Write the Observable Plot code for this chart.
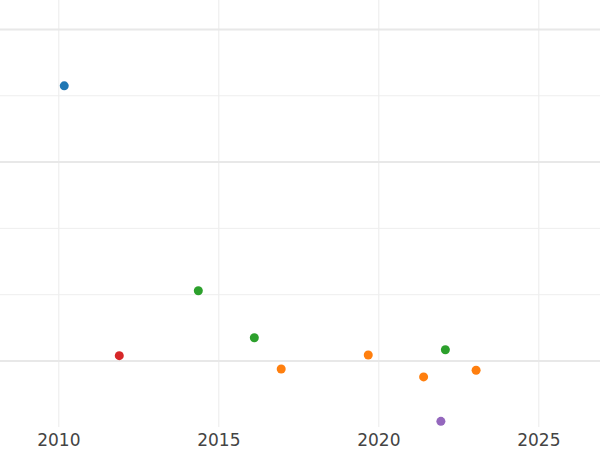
<!DOCTYPE html>
<html>
<head>
<meta charset="utf-8">
<script src="https://cdn.jsdelivr.net/npm/d3@7"></script>
<script src="https://cdn.jsdelivr.net/npm/@observablehq/plot@0.6"></script>
<style>
  html, body { margin: 0; padding: 0; background: #fff; }
  #chart svg { display: block; }
</style>
</head>
<body>
<div id="chart"></div>
<script>
// Data
const years  = [2010.17, 2011.89, 2014.36, 2016.11, 2016.95, 2019.67, 2021.40, 2022.08, 2023.04, 2021.94];
const values = [4.15, 0.08, 1.06, 0.35, -0.12, 0.09, -0.24, 0.17, -0.14, -0.91];
const groups = ["A", "D", "C", "C", "B", "B", "B", "C", "B", "E"];

const groupDomain = ["A", "B", "C", "D", "E"];
const groupColors = ["#1f77b4", "#ff7f0e", "#2ca02c", "#d62728", "#9467bd"];

const xTicks = [2010, 2015, 2020, 2025];
const majorY = [0, 3, 5];
const minorY = [1, 2, 4];

const data = years.map((x, i) => ({x, y: values[i], g: groups[i]}));

const chart = Plot.plot({
  width: 600,
  height: 450,
  marginLeft: 0,
  marginRight: 0,
  marginTop: 0,
  marginBottom: 23,
  style: {fontFamily: "DejaVu Sans, sans-serif", fontSize: "17px", color: "#444", background: "#fff"},
  x: {domain: [2008.178, 2026.928], ticks: xTicks, tickFormat: d => String(d), tickSize: 0, tickPadding: 6, label: null},
  y: {domain: [-1.003, 5.437], axis: null},
  color: {domain: groupDomain, range: groupColors},
  marks: [
    Plot.ruleX(xTicks, {stroke: "#ebebeb", strokeWidth: 1}),
    Plot.ruleY(minorY, {stroke: "#eeeeee", strokeWidth: 1}),
    Plot.ruleY(majorY, {stroke: "#e8e8e8", strokeWidth: 2}),
    Plot.dot(data, {x: "x", y: "y", fill: "g", r: 4.5, stroke: "none"})
  ]
});
document.getElementById("chart").append(chart);
</script>
</body>
</html>
